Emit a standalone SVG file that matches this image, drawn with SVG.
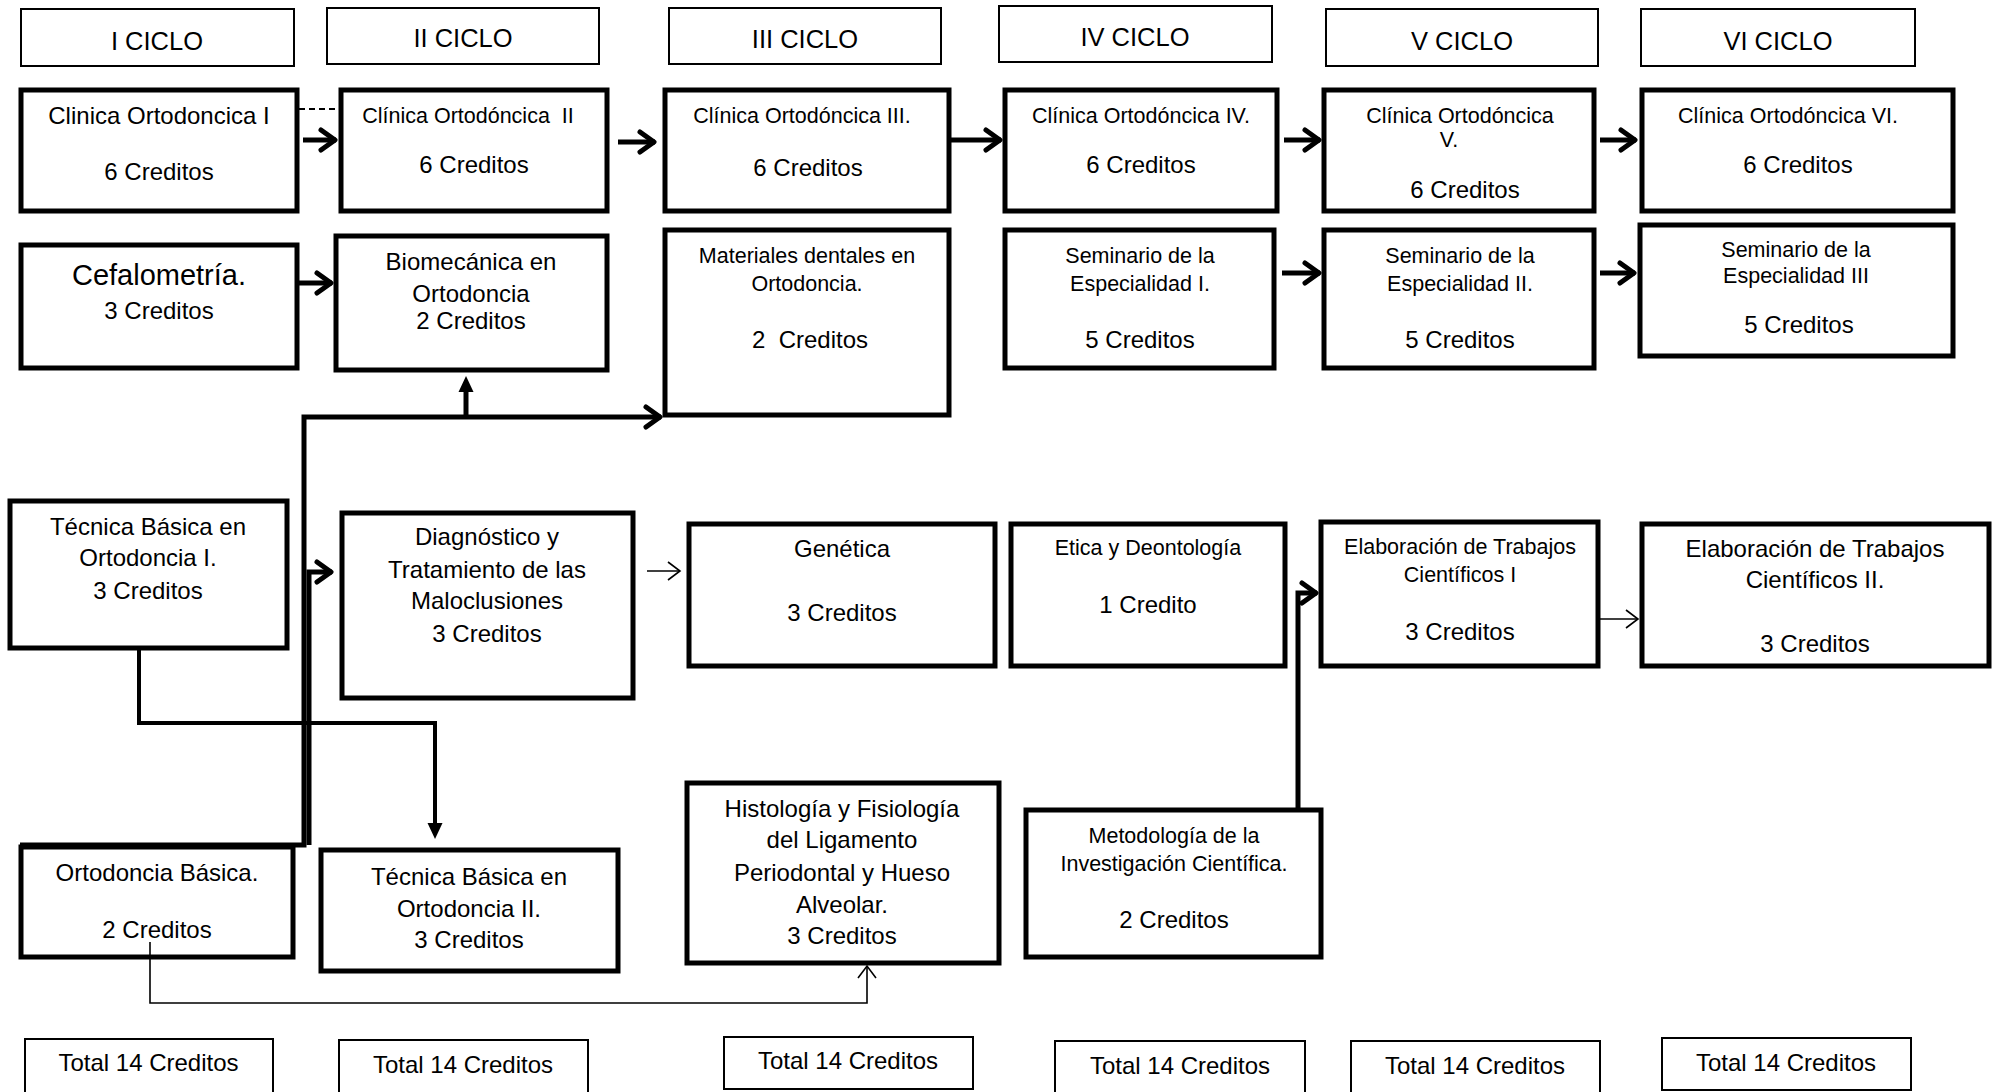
<svg xmlns="http://www.w3.org/2000/svg" width="1999" height="1092" viewBox="0 0 1999 1092">
<style>
  text { font-family: "Liberation Sans", Arial, sans-serif; fill: #000; text-anchor: middle; }
  .n rect { fill: #fff; stroke: #000; stroke-width: 5; }
  .h rect { fill: #fff; stroke: #000; stroke-width: 2; }
  .th { font-size: 25.5px; }
  .t24 { font-size: 24px; }
  .t21 { font-size: 21.5px; }
  .t29 { font-size: 29px; }
  .thick { fill: none; stroke: #000; stroke-width: 5; stroke-linejoin: miter; }
  .thin { fill: none; stroke: #000; stroke-width: 1.6; }
</style>
<defs>
  <marker id="chev" viewBox="-20 -14 24 28" refX="0" refY="0" markerWidth="24" markerHeight="28" markerUnits="userSpaceOnUse" orient="auto" overflow="visible">
    <path d="M-15,-10 L-1,0 L-15,10" fill="none" stroke="#000" stroke-width="5" stroke-linejoin="round" stroke-linecap="round"/>
  </marker>
  <marker id="chevThin" viewBox="-16 -10 18 20" refX="0" refY="0" markerWidth="18" markerHeight="20" markerUnits="userSpaceOnUse" orient="auto" overflow="visible">
    <path d="M-12,-9 L0,0 L-12,9" fill="none" stroke="#000" stroke-width="1.6"/>
  </marker>
  <marker id="tri" viewBox="-6 -9 18 18" refX="0" refY="0" markerWidth="18" markerHeight="18" markerUnits="userSpaceOnUse" orient="auto" overflow="visible">
    <path d="M-5,-7.5 L11,0 L-5,7.5 Z" fill="#000"/>
  </marker>
</defs>

<!-- Cycle headers -->
<g id="hdr1" class="h"><rect x="21" y="9" width="273" height="57"/><text class="th" x="157" y="50">I CICLO</text></g>
<g id="hdr2" class="h"><rect x="327" y="8" width="272" height="56"/><text class="th" x="463" y="47">II CICLO</text></g>
<g id="hdr3" class="h"><rect x="669" y="8" width="272" height="56"/><text class="th" x="805" y="48">III CICLO</text></g>
<g id="hdr4" class="h"><rect x="999" y="6" width="273" height="56"/><text class="th" x="1135" y="46">IV CICLO</text></g>
<g id="hdr5" class="h"><rect x="1326" y="9" width="272" height="57"/><text class="th" x="1462" y="50">V CICLO</text></g>
<g id="hdr6" class="h"><rect x="1641" y="9" width="274" height="57"/><text class="th" x="1778" y="50">VI CICLO</text></g>

<!-- Row 1: Clinica -->
<g id="c1" class="n"><rect x="21" y="90" width="276" height="121"/><text class="t24" x="159" y="124">Clinica Ortodoncica I</text><text class="t24" x="159" y="180">6 Creditos</text></g>
<g id="c2" class="n"><rect x="341" y="90" width="266" height="121"/><text class="t21" x="468" y="123" xml:space="preserve">Clínica Ortodóncica  II</text><text class="t24" x="474" y="173">6 Creditos</text></g>
<g id="c3" class="n"><rect x="665" y="90" width="284" height="121"/><text class="t21" x="802" y="123">Clínica Ortodóncica III.</text><text class="t24" x="808" y="176">6 Creditos</text></g>
<g id="c4" class="n"><rect x="1005" y="90" width="272" height="121"/><text class="t21" x="1141" y="123">Clínica Ortodóncica IV.</text><text class="t24" x="1141" y="173">6 Creditos</text></g>
<g id="c5" class="n"><rect x="1324" y="90" width="270" height="121"/><text class="t21" x="1460" y="123">Clínica Ortodóncica</text><text class="t21" x="1449" y="147">V.</text><text class="t24" x="1465" y="198">6 Creditos</text></g>
<g id="c6" class="n"><rect x="1642" y="90" width="311" height="121"/><text class="t21" x="1788" y="123">Clínica Ortodóncica VI.</text><text class="t24" x="1798" y="173">6 Creditos</text></g>

<!-- Row 2 -->
<g id="cef" class="n"><rect x="21" y="245" width="276" height="123"/><text class="t29" x="159" y="285">Cefalometría.</text><text class="t24" x="159" y="319">3 Creditos</text></g>
<g id="bio" class="n"><rect x="336" y="236" width="271" height="134"/><text class="t24" x="471" y="270">Biomecánica en</text><text class="t24" x="471" y="302">Ortodoncia</text><text class="t24" x="471" y="329">2 Creditos</text></g>
<g id="mat" class="n"><rect x="665" y="230" width="284" height="185"/><text class="t21" x="807" y="263">Materiales dentales en</text><text class="t21" x="807" y="291">Ortodoncia.</text><text class="t24" x="810" y="348" xml:space="preserve">2  Creditos</text></g>
<g id="sem1" class="n"><rect x="1005" y="230" width="269" height="138"/><text class="t21" x="1140" y="263">Seminario de la</text><text class="t21" x="1140" y="291">Especialidad I.</text><text class="t24" x="1140" y="348">5 Creditos</text></g>
<g id="sem2" class="n"><rect x="1324" y="230" width="270" height="138"/><text class="t21" x="1460" y="263">Seminario de la</text><text class="t21" x="1460" y="291">Especialidad II.</text><text class="t24" x="1460" y="348">5 Creditos</text></g>
<g id="sem3" class="n"><rect x="1640" y="225" width="313" height="131"/><text class="t21" x="1796" y="257">Seminario de la</text><text class="t21" x="1796" y="283">Especialidad III</text><text class="t24" x="1799" y="333">5 Creditos</text></g>

<!-- Row 3 -->
<g id="tec1" class="n"><rect x="10" y="501" width="277" height="147"/><text class="t24" x="148" y="535">Técnica Básica en</text><text class="t24" x="148" y="566">Ortodoncia I.</text><text class="t24" x="148" y="599">3 Creditos</text></g>
<g id="diag" class="n"><rect x="342" y="513" width="291" height="185"/><text class="t24" x="487" y="545">Diagnóstico y</text><text class="t24" x="487" y="578">Tratamiento de las</text><text class="t24" x="487" y="609">Maloclusiones</text><text class="t24" x="487" y="642">3 Creditos</text></g>
<g id="gen" class="n"><rect x="689" y="524" width="306" height="142"/><text class="t24" x="842" y="557">Genética</text><text class="t24" x="842" y="621">3 Creditos</text></g>
<g id="etica" class="n"><rect x="1011" y="524" width="274" height="142"/><text class="t21" x="1148" y="555">Etica y Deontología</text><text class="t24" x="1148" y="613">1 Credito</text></g>
<g id="elab1" class="n"><rect x="1321" y="522" width="277" height="144"/><text class="t21" x="1460" y="554">Elaboración de Trabajos</text><text class="t21" x="1460" y="582">Científicos I</text><text class="t24" x="1460" y="640">3 Creditos</text></g>
<g id="elab2" class="n"><rect x="1642" y="524" width="347" height="142"/><text class="t24" x="1815" y="557">Elaboración de Trabajos</text><text class="t24" x="1815" y="588">Científicos II.</text><text class="t24" x="1815" y="652">3 Creditos</text></g>

<!-- Row 4 -->
<g id="ortb" class="n"><rect x="21" y="847" width="272" height="110"/><text class="t24" x="157" y="881">Ortodoncia Básica.</text><text class="t24" x="157" y="938">2 Creditos</text></g>
<g id="tec2" class="n"><rect x="321" y="850" width="297" height="121"/><text class="t24" x="469" y="885">Técnica Básica en</text><text class="t24" x="469" y="917">Ortodoncia II.</text><text class="t24" x="469" y="948">3 Creditos</text></g>
<g id="hist" class="n"><rect x="687" y="783" width="312" height="180"/><text class="t24" x="842" y="817">Histología y Fisiología</text><text class="t24" x="842" y="848">del Ligamento</text><text class="t24" x="842" y="881">Periodontal y Hueso</text><text class="t24" x="842" y="913">Alveolar.</text><text class="t24" x="842" y="944">3 Creditos</text></g>
<g id="met" class="n"><rect x="1026" y="810" width="295" height="147"/><text class="t21" x="1174" y="843">Metodología de la</text><text class="t21" x="1174" y="871">Investigación Científica.</text><text class="t24" x="1174" y="928">2 Creditos</text></g>

<!-- Totals -->
<g id="tot1" class="h"><rect x="25" y="1039" width="248" height="58"/><text class="t24" x="148.5" y="1071">Total 14 Creditos</text></g>
<g id="tot2" class="h"><rect x="339" y="1040" width="249" height="58"/><text class="t24" x="463" y="1073">Total 14 Creditos</text></g>
<g id="tot3" class="h"><rect x="724" y="1037" width="249" height="52"/><text class="t24" x="848" y="1069">Total 14 Creditos</text></g>
<g id="tot4" class="h"><rect x="1055" y="1041" width="250" height="58"/><text class="t24" x="1180" y="1074">Total 14 Creditos</text></g>
<g id="tot5" class="h"><rect x="1351" y="1041" width="249" height="58"/><text class="t24" x="1475" y="1074">Total 14 Creditos</text></g>
<g id="tot6" class="h"><rect x="1662" y="1038" width="249" height="52"/><text class="t24" x="1786" y="1071">Total 14 Creditos</text></g>

<!-- Connectors -->
<g id="connectors">
  <line x1="299" y1="109" x2="340" y2="109" stroke="#000" stroke-width="2" stroke-dasharray="6,4"/>
  <line class="thick" x1="303" y1="140" x2="336" y2="140" marker-end="url(#chev)"/>
  <line class="thick" x1="618" y1="142" x2="655" y2="142" marker-end="url(#chev)"/>
  <line class="thick" x1="951" y1="140" x2="1001" y2="140" marker-end="url(#chev)"/>
  <line class="thick" x1="1284" y1="140" x2="1320" y2="140" marker-end="url(#chev)"/>
  <line class="thick" x1="1600" y1="140" x2="1636" y2="140" marker-end="url(#chev)"/>
  <line class="thick" x1="299" y1="283" x2="332" y2="283" marker-end="url(#chev)"/>
  <line class="thick" x1="1282" y1="273" x2="1320" y2="273" marker-end="url(#chev)"/>
  <line class="thick" x1="1600" y1="273" x2="1635" y2="273" marker-end="url(#chev)"/>
  <path class="thick" d="M20,845 H304 V417 H661" marker-end="url(#chev)"/>
  <line class="thick" x1="466" y1="417" x2="466" y2="387" marker-end="url(#tri)"/>
  <path class="thick" d="M309,845 V572 H332" marker-end="url(#chev)"/>
  <path class="thick" style="stroke-width:4" d="M139,650 V723 H435 V828" marker-end="url(#tri)"/>
  <line class="thin" x1="647" y1="571" x2="680" y2="571" marker-end="url(#chevThin)"/>
  <path class="thick" d="M1298,808 V593 H1317" marker-end="url(#chev)"/>
  <line class="thin" x1="1596" y1="619" x2="1638" y2="619" marker-end="url(#chevThin)"/>
  <path class="thin" d="M150,942 V1003 H867 V966" marker-end="url(#chevThin)"/>
</g>
</svg>
